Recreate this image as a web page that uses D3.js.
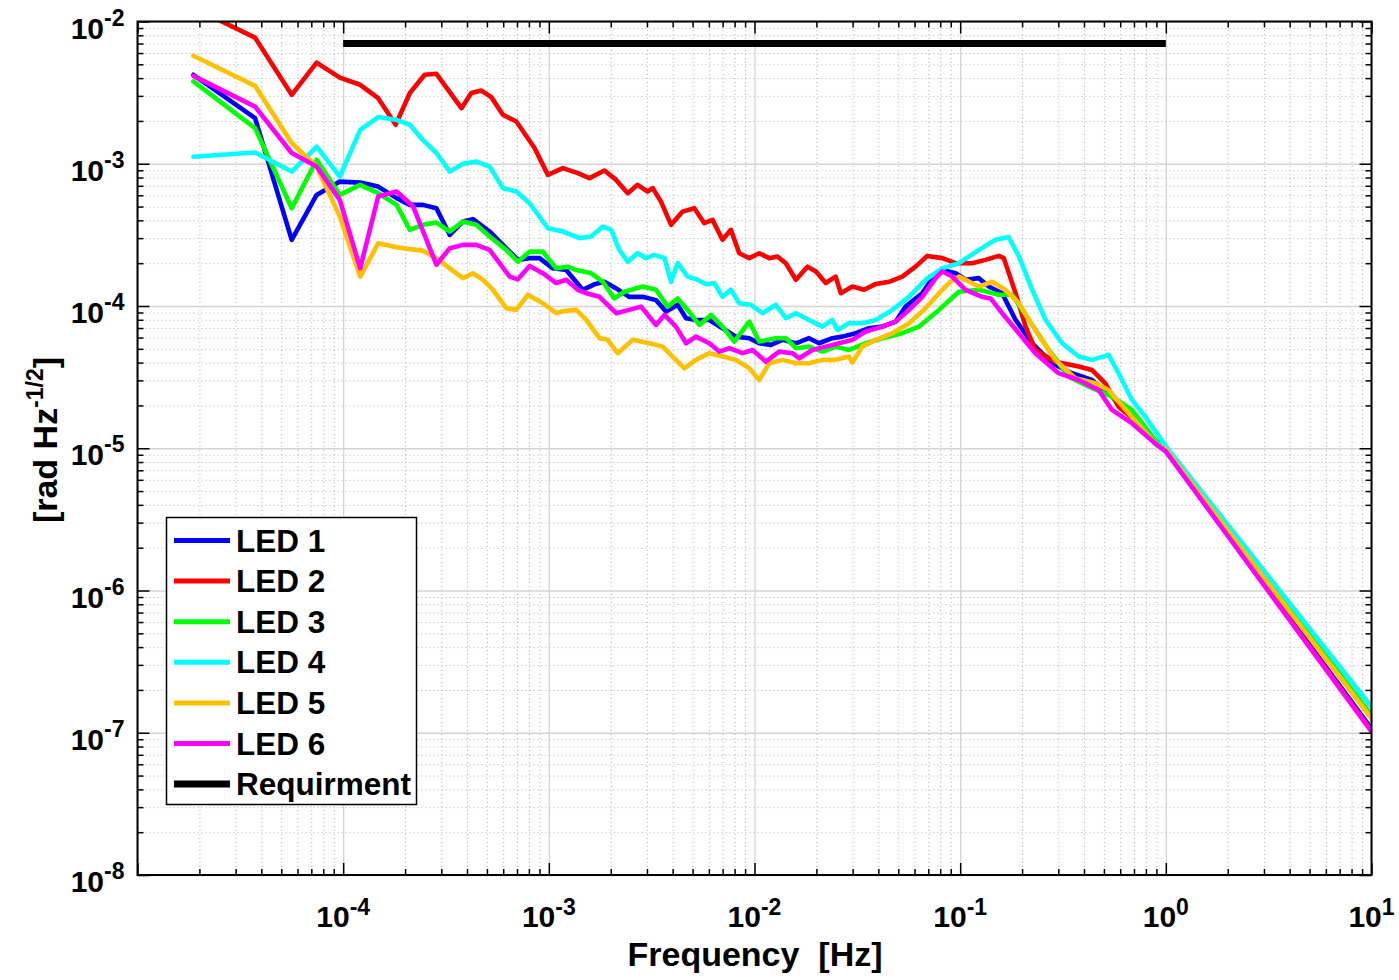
<!DOCTYPE html>
<html>
<head>
<meta charset="utf-8">
<script src="https://cdn.jsdelivr.net/npm/d3@7"></script>
<style>
  body { margin: 0; background: #ffffff; }
  svg { display: block; }
  text { font-family: "Liberation Sans", Arial, Helvetica, sans-serif; font-weight: bold; fill: #000; }
</style>
</head>
<body>
<svg id="chart" width="1399" height="980"></svg>
<script>
// ---------------- DATA (frequency [Hz], amplitude [rad Hz^-1/2]) ----------------
const xTickExponents = [-4, -3, -2, -1, 0, 1];
const yTickExponents = [-8, -7, -6, -5, -4, -3, -2];
const seriesNames = ["LED 1", "LED 2", "LED 3", "LED 4", "LED 5", "LED 6", "Requirment"];
const seriesColors = ["#0000ff", "#ff0000", "#00ff00", "#00ffff", "#ffc000", "#ff00ff", "#000000"];

const led1 = [[1.87e-5,4.22e-3],[3.73e-5,2.09e-3],[5.62e-5,2.92e-4],[7.43e-5,6.04e-4],[9.63e-5,7.49e-4],[1.21e-4,7.37e-4],[1.48e-4,6.91e-4],[1.82e-4,5.73e-4],[2.11e-4,5.14e-4],[2.44e-4,5.14e-4],[2.84e-4,4.87e-4],[3.30e-4,3.16e-4],[3.82e-4,3.92e-4],[4.28e-4,4.08e-4],[5.15e-4,3.34e-4],[5.98e-4,2.69e-4],[7.07e-4,2.11e-4],[8.06e-4,2.17e-4],[9.01e-4,2.17e-4],[1.046e-3,1.84e-4],[1.215e-3,1.79e-4],[1.46e-3,1.30e-4],[1.666e-3,1.42e-4],[1.864e-3,1.48e-4],[2.125e-3,1.33e-4],[2.46e-3,1.16e-4],[2.86e-3,1.16e-4],[3.32e-3,1.10e-4],[3.72e-3,9.13e-5],[4.23e-3,1.02e-4],[4.65e-3,8.21e-5],[5.19e-3,7.98e-5],[6.03e-3,7.98e-5],[6.99e-3,6.98e-5],[8.12e-3,6.09e-5],[9.43e-3,5.94e-5],[1.054e-2,5.47e-5],[1.201e-2,5.33e-5],[1.368e-2,5.78e-5],[1.59e-2,5.47e-5],[1.84e-2,5.94e-5],[2.06e-2,5.47e-5],[2.39e-2,5.94e-5],[2.67e-2,6.09e-5],[3.11e-2,6.44e-5],[3.60e-2,6.98e-5],[4.18e-2,7.16e-5],[4.86e-2,7.77e-5],[5.43e-2,9.90e-5],[6.54e-2,1.23e-4],[7.60e-2,1.70e-4],[8.18e-2,1.79e-4],[9.50e-2,1.70e-4],[1.062e-1,1.53e-4],[1.233e-1,1.57e-4],[1.378e-1,1.37e-4],[1.60e-1,1.23e-4],[1.86e-1,7.98e-5],[2.24e-1,5.47e-5],[2.80e-1,3.96e-5],[3.50e-1,3.37e-5],[4.37e-1,3.02e-5],[5.47e-1,2.31e-5],[6.84e-1,1.67e-5],[8.88e-1,1.08e-5],[1,9.6e-6],[10,1.07e-7]];

const led2 = [[1.87e-5,1.25e-2],[3.73e-5,7.7e-3],[5.62e-5,3.05e-3],[7.43e-5,5.14e-3],[9.63e-5,4.03e-3],[1.21e-4,3.59e-3],[1.48e-4,2.89e-3],[1.80e-4,1.88e-3],[2.11e-4,3.14e-3],[2.49e-4,4.22e-3],[2.84e-4,4.29e-3],[3.76e-4,2.46e-3],[4.20e-4,3.14e-3],[4.70e-4,3.27e-3],[5.25e-4,2.94e-3],[5.98e-4,2.21e-3],[6.95e-4,1.98e-3],[8.52e-4,1.29e-3],[9.89e-4,8.35e-4],[1.17e-3,9.31e-4],[1.383e-3,8.59e-4],[1.576e-3,7.92e-4],[1.864e-3,8.96e-4],[2.125e-3,7.70e-4],[2.42e-3,6.21e-4],[2.70e-3,7.11e-4],[3.02e-3,6.38e-4],[3.20e-3,6.74e-4],[3.51e-3,5.42e-4],[3.93e-3,3.72e-4],[4.47e-3,4.61e-4],[5.10e-3,4.87e-4],[5.70e-3,3.82e-4],[6.25e-3,4.03e-4],[6.99e-3,2.92e-4],[7.68e-3,3.43e-4],[8.43e-3,2.35e-4],[9.43e-3,2.17e-4],[1.054e-2,2.35e-4],[1.179e-2,2.17e-4],[1.293e-2,2.23e-4],[1.42e-2,2.0e-4],[1.59e-2,1.53e-4],[1.81e-2,1.89e-4],[1.99e-2,1.75e-4],[2.22e-2,1.45e-4],[2.48e-2,1.61e-4],[2.63e-2,1.23e-4],[2.99e-2,1.37e-4],[3.41e-2,1.30e-4],[3.89e-2,1.43e-4],[4.51e-2,1.48e-4],[5.23e-2,1.61e-4],[6.07e-2,1.89e-4],[6.92e-2,2.25e-4],[8.18e-2,2.17e-4],[9.50e-2,2.0e-4],[1.144e-1,2.0e-4],[1.328e-1,2.11e-4],[1.541e-1,2.25e-4],[1.63e-1,2.17e-4],[1.86e-1,1.23e-4],[2.08e-1,7.16e-5],[2.32e-1,4.91e-5],[2.90e-1,4.06e-5],[3.77e-1,3.75e-5],[4.37e-1,3.55e-5],[5.08e-1,2.86e-5],[5.89e-1,1.96e-5],[7.37e-1,1.50e-5],[8.88e-1,1.08e-5],[1,9.6e-6],[10,1.04e-7]];

const led3 = [[1.87e-5,3.79e-3],[3.73e-5,1.78e-3],[5.62e-5,4.87e-4],[7.43e-5,1.065e-3],[9.63e-5,6.04e-4],[1.21e-4,7.11e-4],[1.48e-4,6.21e-4],[1.82e-4,5.14e-4],[2.11e-4,3.43e-4],[2.44e-4,3.72e-4],[2.84e-4,3.86e-4],[3.30e-4,3.34e-4],[3.82e-4,3.92e-4],[4.44e-4,3.72e-4],[5.15e-4,3.08e-4],[6.21e-4,2.48e-4],[7.07e-4,2.05e-4],[8.06e-4,2.41e-4],[9.35e-4,2.41e-4],[1.086e-3,1.84e-4],[1.236e-3,1.89e-4],[1.36e-3,1.79e-4],[1.606e-3,1.70e-4],[1.83e-3,1.48e-4],[2.08e-3,1.13e-4],[2.33e-3,1.26e-4],[2.86e-3,1.37e-4],[3.32e-3,1.30e-4],[3.78e-3,9.90e-5],[4.23e-3,1.13e-4],[4.73e-3,9.39e-5],[5.39e-3,7.36e-5],[6.14e-3,8.66e-5],[6.99e-3,7.16e-5],[7.97e-3,5.62e-5],[9.43e-3,7.77e-5],[1.054e-2,5.62e-5],[1.270e-2,5.94e-5],[1.42e-2,5.94e-5],[1.59e-2,5.05e-5],[1.84e-2,5.18e-5],[2.14e-2,4.78e-5],[2.48e-2,5.18e-5],[2.88e-2,4.91e-5],[3.47e-2,5.47e-5],[4.18e-2,5.94e-5],[5.23e-2,6.44e-5],[6.30e-2,7.16e-5],[7.88e-2,9.39e-5],[9.86e-2,1.26e-4],[1.233e-1,1.30e-4],[1.541e-1,1.20e-4],[1.79e-1,1.20e-4],[2.16e-1,7.98e-5],[2.70e-1,4.91e-5],[3.37e-1,3.19e-5],[4.22e-1,2.71e-5],[5.47e-1,2.31e-5],[6.84e-1,1.86e-5],[8.88e-1,1.14e-5],[1,9.9e-6],[10,1.33e-7]];

const led4 = [[1.87e-5,1.12e-3],[3.73e-5,1.20e-3],[5.62e-5,8.81e-4],[7.43e-5,1.32e-3],[9.63e-5,8.13e-4],[1.21e-4,1.73e-3],[1.48e-4,2.13e-3],[1.80e-4,2.04e-3],[2.11e-4,1.88e-3],[2.44e-4,1.47e-3],[2.84e-4,1.19e-3],[3.30e-4,8.81e-4],[3.82e-4,9.98e-4],[4.44e-4,1.036e-3],[5.15e-4,9.56e-4],[5.98e-4,6.74e-4],[6.95e-4,6.38e-4],[8.06e-4,5.28e-4],[9.89e-4,3.52e-4],[1.17e-3,3.34e-4],[1.41e-3,3.0e-4],[1.606e-3,3.08e-4],[1.83e-3,3.62e-4],[2.01e-3,3.43e-4],[2.20e-3,2.48e-4],[2.42e-3,2.05e-4],[2.70e-3,2.35e-4],[2.97e-3,2.17e-4],[3.26e-3,2.29e-4],[3.65e-3,2.17e-4],[3.93e-3,1.48e-4],[4.23e-3,2.0e-4],[4.73e-3,1.61e-4],[5.29e-3,1.53e-4],[5.81e-3,1.42e-4],[6.37e-3,1.45e-4],[6.99e-3,1.16e-4],[7.68e-3,1.30e-4],[8.43e-3,1.046e-4],[9.60e-3,1.02e-4],[1.094e-2,8.90e-5],[1.270e-2,1.02e-4],[1.42e-2,8.21e-5],[1.59e-2,8.90e-5],[1.84e-2,7.98e-5],[2.14e-2,7.16e-5],[2.39e-2,7.98e-5],[2.53e-2,6.79e-5],[2.88e-2,7.57e-5],[3.34e-2,7.57e-5],[3.89e-2,7.98e-5],[4.68e-2,9.39e-5],[5.64e-2,1.16e-4],[6.79e-2,1.53e-4],[8.18e-2,1.84e-4],[9.86e-2,2.0e-4],[1.233e-1,2.48e-4],[1.485e-1,2.92e-4],[1.72e-1,3.05e-4],[1.93e-1,2.23e-4],[2.24e-1,1.30e-4],[2.60e-1,7.98e-5],[3.13e-1,5.47e-5],[3.77e-1,4.41e-5],[4.37e-1,4.18e-5],[5.27e-1,4.53e-5],[5.89e-1,3.37e-5],[6.84e-1,2.19e-5],[7.94e-1,1.67e-5],[1,1.03e-5],[10,1.52e-7]];

const led5 = [[1.87e-5,5.74e-3],[3.73e-5,3.53e-3],[5.62e-5,1.40e-3],[7.43e-5,9.56e-4],[9.63e-5,4.25e-4],[1.21e-4,1.61e-4],[1.48e-4,2.76e-4],[1.82e-4,2.59e-4],[2.11e-4,2.51e-4],[2.44e-4,2.45e-4],[2.84e-4,2.17e-4],[3.30e-4,1.84e-4],[3.82e-4,1.57e-4],[4.28e-4,1.70e-4],[4.78e-4,1.53e-4],[5.35e-4,1.30e-4],[6.21e-4,9.65e-5],[6.95e-4,9.39e-5],[7.91e-4,1.20e-4],[9.35e-4,1.046e-4],[1.086e-3,8.90e-5],[1.17e-3,9.2e-5],[1.36e-3,9.39e-5],[1.52e-3,7.98e-5],[1.763e-3,5.94e-5],[1.934e-3,5.78e-5],[2.16e-3,4.66e-5],[2.56e-3,5.78e-5],[3.08e-3,5.47e-5],[3.58e-3,5.18e-5],[4.0e-3,4.41e-5],[4.56e-3,3.65e-5],[5.19e-3,4.18e-5],[6.03e-3,4.66e-5],[6.99e-3,4.41e-5],[8.12e-3,4.18e-5],[9.43e-3,3.65e-5],[1.054e-2,3.02e-5],[1.179e-2,3.96e-5],[1.368e-2,4.18e-5],[1.59e-2,3.96e-5],[1.84e-2,3.96e-5],[2.14e-2,4.18e-5],[2.48e-2,4.18e-5],[2.88e-2,4.41e-5],[2.99e-2,4.0e-5],[3.34e-2,5.18e-5],[3.89e-2,5.78e-5],[4.68e-2,6.44e-5],[5.64e-2,7.57e-5],[6.79e-2,9.65e-5],[8.18e-2,1.30e-4],[8.98e-2,1.48e-4],[9.86e-2,1.61e-4],[1.233e-1,1.37e-4],[1.43e-1,1.48e-4],[1.66e-1,1.30e-4],[1.93e-1,1.046e-4],[2.32e-1,6.79e-5],[2.90e-1,4.18e-5],[3.63e-1,3.11e-5],[4.54e-1,2.86e-5],[5.27e-1,2.57e-5],[6.59e-1,1.76e-5],[8.88e-1,1.08e-5],[1,9.8e-6],[10,1.26e-7]];

const led6 = [[1.87e-5,4.15e-3],[3.73e-5,2.52e-3],[5.62e-5,1.19e-3],[7.43e-5,9.56e-4],[9.63e-5,5.57e-4],[1.21e-4,1.84e-4],[1.48e-4,5.88e-4],[1.82e-4,6.38e-4],[2.19e-4,5.0e-4],[2.84e-4,1.95e-4],[3.30e-4,2.55e-4],[3.82e-4,2.69e-4],[4.44e-4,2.69e-4],[5.15e-4,2.48e-4],[6.45e-4,1.61e-4],[7.07e-4,1.54e-4],[8.06e-4,1.91e-4],[9.35e-4,1.70e-4],[1.086e-3,1.45e-4],[1.215e-3,1.53e-4],[1.383e-3,1.30e-4],[1.52e-3,1.23e-4],[1.763e-3,1.16e-4],[2.125e-3,8.90e-5],[2.46e-3,9.39e-5],[2.81e-3,9.90e-5],[3.32e-3,7.36e-5],[3.65e-3,8.66e-5],[4.15e-3,7.16e-5],[4.65e-3,5.47e-5],[5.19e-3,6.09e-5],[6.03e-3,5.47e-5],[6.74e-3,4.78e-5],[7.54e-3,5.05e-5],[8.74e-3,4.66e-5],[9.78e-3,4.91e-5],[1.136e-2,4.06e-5],[1.318e-2,4.78e-5],[1.53e-2,4.66e-5],[1.65e-2,4.29e-5],[1.91e-2,4.91e-5],[2.22e-2,5.18e-5],[2.58e-2,5.47e-5],[2.99e-2,5.78e-5],[3.47e-2,6.61e-5],[4.18e-2,7.16e-5],[4.86e-2,7.77e-5],[5.64e-2,9.39e-5],[6.54e-2,1.16e-4],[7.60e-2,1.57e-4],[8.18e-2,1.75e-4],[9.15e-2,1.61e-4],[1.062e-1,1.30e-4],[1.279e-1,1.16e-4],[1.405e-1,1.13e-4],[1.60e-1,8.90e-5],[1.93e-1,6.44e-5],[2.32e-1,4.66e-5],[3.01e-1,3.37e-5],[3.77e-1,3.02e-5],[4.71e-1,2.57e-5],[5.47e-1,1.86e-5],[6.84e-1,1.50e-5],[8.88e-1,1.08e-5],[1,9.5e-6],[10,1.02e-7]];

const requirement = [[1e-4,7e-3],[1,7e-3]];

// ---------------- LAYOUT ----------------
const svg = d3.select("#chart");
const plot = { left: 137.5, right: 1371.5, top: 21.5, bottom: 875 };
const pw = plot.right - plot.left, ph = plot.bottom - plot.top;

const x = d3.scaleLog().domain([1e-5, 10]).range([plot.left, plot.right]);
const y = d3.scaleLog().domain([1e-8, 1e-2]).range([plot.bottom, plot.top]);

function minorTicks(lo, hi) {
  const out = [];
  for (let d = lo; d < hi; d++) for (let m = 2; m <= 9; m++) out.push(m * Math.pow(10, d));
  return out;
}
const xMajor = d3.range(-5, 2).map(e => Math.pow(10, e));
const yMajor = d3.range(-8, -1).map(e => Math.pow(10, e));
const xMinor = minorTicks(-5, 1);
const yMinor = minorTicks(-8, -2);

svg.append("rect").attr("x", plot.left).attr("y", plot.top).attr("width", pw).attr("height", ph).attr("fill", "#fff");

// minor grid (dotted)
const gridMinorX = svg.append("g").attr("transform", `translate(0,${plot.bottom})`)
  .call(d3.axisBottom(x).tickValues(xMinor).tickSize(-ph).tickFormat(""));
const gridMinorY = svg.append("g").attr("transform", `translate(${plot.left},0)`)
  .call(d3.axisLeft(y).tickValues(yMinor).tickSize(-pw).tickFormat(""));
[gridMinorX, gridMinorY].forEach(g => {
  g.select(".domain").remove();
  g.selectAll("line").attr("stroke", "#b4b4b4").attr("stroke-width", 1).attr("stroke-dasharray", "1,3");
});

// major grid (solid light)
const gridMajorX = svg.append("g").attr("transform", `translate(0,${plot.bottom})`)
  .call(d3.axisBottom(x).tickValues(xMajor).tickSize(-ph).tickFormat(""));
const gridMajorY = svg.append("g").attr("transform", `translate(${plot.left},0)`)
  .call(d3.axisLeft(y).tickValues(yMajor).tickSize(-pw).tickFormat(""));
[gridMajorX, gridMajorY].forEach(g => {
  g.select(".domain").remove();
  g.selectAll("line").attr("stroke", "#d4d4d4").attr("stroke-width", 1.3);
});

svg.append("defs").append("clipPath").attr("id", "plotclip")
  .append("rect").attr("x", plot.left).attr("y", plot.top).attr("width", pw).attr("height", ph);

const line = d3.line().x(d => x(d[0])).y(d => y(d[1]));
const allSeries = [led1, led2, led3, led4, led5, led6, requirement];
const dataG = svg.append("g").attr("clip-path", "url(#plotclip)");
allSeries.forEach((s, i) => {
  dataG.append("path").datum(s)
    .attr("d", line)
    .attr("fill", "none")
    .attr("stroke", seriesColors[i])
    .attr("stroke-width", i === 6 ? 7 : 4.6)
    .attr("stroke-linejoin", "round")
    .attr("stroke-linecap", i === 6 ? "butt" : "round");
});

// axes ticks (inward) on all four sides
function styleAxis(g) {
  g.select(".domain").remove();
  g.selectAll("line").attr("stroke", "#000").attr("stroke-width", 1.5);
}
const axes = [
  [d3.axisBottom(x), `translate(0,${plot.bottom})`, xMajor, xMinor],
  [d3.axisTop(x), `translate(0,${plot.top})`, xMajor, xMinor],
  [d3.axisLeft(y), `translate(${plot.left},0)`, yMajor, yMinor],
  [d3.axisRight(y), `translate(${plot.right},0)`, yMajor, yMinor]
];
axes.forEach(([ax, tr, maj, min]) => {
  svg.append("g").attr("transform", tr)
    .call(ax.tickValues(min).tickSizeInner(-6).tickSizeOuter(0).tickFormat("")).call(styleAxis);
  svg.append("g").attr("transform", tr)
    .call(ax.tickValues(maj).tickSizeInner(-12).tickSizeOuter(0).tickFormat("")).call(styleAxis);
});

svg.append("rect").attr("x", plot.left).attr("y", plot.top).attr("width", pw).attr("height", ph)
  .attr("fill", "none").attr("stroke", "#000").attr("stroke-width", 2);

// tick labels
xTickExponents.forEach(e => {
  const t = svg.append("text").attr("x", x(Math.pow(10, e))).attr("y", plot.bottom + 52)
    .attr("text-anchor", "middle").attr("font-size", 30);
  t.append("tspan").text("10");
  t.append("tspan").attr("font-size", 23).attr("dy", -12).text(String(e));
});
yTickExponents.forEach(e => {
  const t = svg.append("text").attr("x", plot.left - 13).attr("y", y(Math.pow(10, e)) + 17)
    .attr("text-anchor", "end").attr("font-size", 30);
  t.append("tspan").text("10");
  t.append("tspan").attr("font-size", 23).attr("dy", -13).text(String(e));
});

// axis titles
svg.append("text").attr("x", 755).attr("y", 966)
  .attr("text-anchor", "middle").attr("font-size", 34).text("Frequency\u00A0\u00A0[Hz]");

const yt = svg.append("text").attr("transform", `translate(57,440) rotate(-90)`)
  .attr("text-anchor", "middle").attr("font-size", 34);
yt.append("tspan").text("[rad Hz");
yt.append("tspan").attr("font-size", 23).attr("dy", -14).text("-1/2");
yt.append("tspan").attr("dy", 14).text("]");

// legend
const lg = svg.append("g");
lg.append("rect").attr("x", 166.5).attr("y", 517.5).attr("width", 250).attr("height", 287)
  .attr("fill", "#fff").attr("stroke", "#000").attr("stroke-width", 1.5);
seriesNames.forEach((name, i) => {
  const cy = 540.5 + i * 40.6;
  lg.append("line").attr("x1", 174).attr("x2", 230).attr("y1", cy).attr("y2", cy)
    .attr("stroke", seriesColors[i]).attr("stroke-width", i === 6 ? 7 : 5);
  lg.append("text").attr("x", 236).attr("y", cy + 11).attr("font-size", 31.5).text(name);
});
</script>
</body>
</html>
